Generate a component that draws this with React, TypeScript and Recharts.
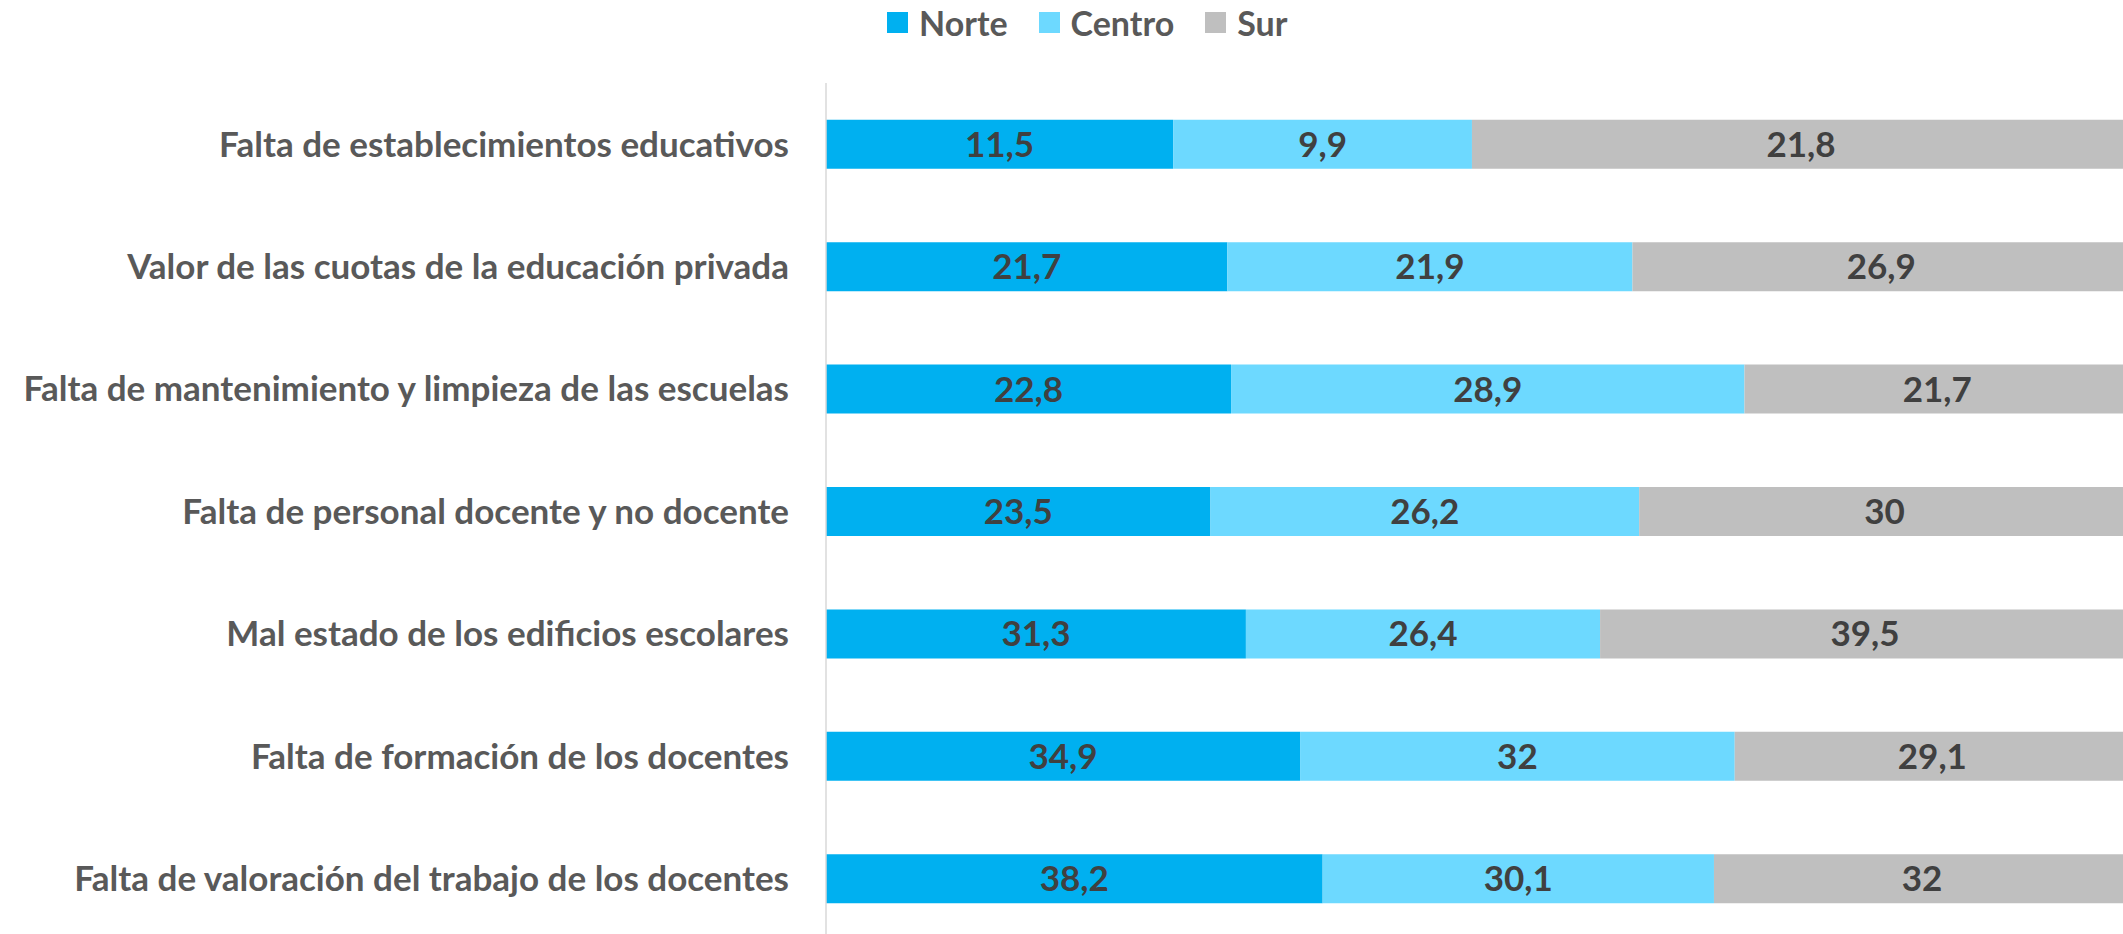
import React from 'react';
import { BarChart, Bar, XAxis, YAxis, Legend, LabelList } from 'recharts';

const categories = [
  'Falta de establecimientos educativos',
  'Valor de las cuotas de la educación privada',
  'Falta de mantenimiento y limpieza de las escuelas',
  'Falta de personal docente y no docente',
  'Mal estado de los edificios escolares',
  'Falta de formación de los docentes',
  'Falta de valoración del trabajo de los docentes',
];
const norte = [11.5, 21.7, 22.8, 23.5, 31.3, 34.9, 38.2];
const centro = [9.9, 21.9, 28.9, 26.2, 26.4, 32, 30.1];
const sur = [21.8, 26.9, 21.7, 30, 39.5, 29.1, 32];

const series = [
  { key: 'norte', name: 'Norte', color: '#00B0F0' },
  { key: 'centro', name: 'Centro', color: '#6DD9FF' },
  { key: 'sur', name: 'Sur', color: '#BFBFBF' },
];

const data = categories.map((cat, i) => ({
  cat,
  norte: norte[i],
  centro: centro[i],
  sur: sur[i],
}));

const FONT = "Lato, 'Open Sans', sans-serif";

// valores con coma decimal
const fmt = (v: any) => String(v).replace('.', ',');

const renderLegend = () => (
  <div style={{ display: 'flex', alignItems: 'center', height: 44, fontFamily: FONT }}>
    {series.map((s) => (
      <div key={s.key} style={{ display: 'flex', alignItems: 'center', marginRight: 31 }}>
        <span style={{ width: 21, height: 21, background: s.color, display: 'inline-block', marginRight: 11 }} />
        <span style={{ fontSize: 34, fontWeight: 'bold', color: '#595959' }}>{s.name}</span>
      </div>
    ))}
  </div>
);

const App: React.FC = () => {
  return (
    <div style={{ position: 'absolute', left: 0, top: 0, width: 2123, height: 934, overflow: 'hidden', background: '#fff' }}>
      <BarChart
        width={2130}
        height={940}
        data={data}
        layout="vertical"
        stackOffset="expand"
        barCategoryGap="30%"
        margin={{ top: 39, right: 0, bottom: 0, left: 0 }}
      >
        <Legend
          verticalAlign="top"
          align="left"
          content={renderLegend}
          wrapperStyle={{ left: 887, top: 0, width: 'auto' }}
        />
        <XAxis type="number" domain={[0, 1]} hide />
        <YAxis
          type="category"
          dataKey="cat"
          width={826}
          interval={0}
          tickSize={0}
          tickMargin={37}
          axisLine={{ stroke: '#D9D9D9', strokeWidth: 1.5 }}
          tickLine={false}
          tick={{ fill: '#595959', fontSize: 35, fontWeight: 'bold', fontFamily: FONT }}
        />
        {series.map((s) => (
          <Bar key={s.key} dataKey={s.key} name={s.name} stackId="a" fill={s.color} isAnimationActive={false}>
            <LabelList
              dataKey={s.key}
              position="center"
              formatter={fmt}
              style={{ fill: '#404040', fontSize: 35, fontWeight: 'bold', fontFamily: FONT }}
            />
          </Bar>
        ))}
      </BarChart>
    </div>
  );
};

export default App;
